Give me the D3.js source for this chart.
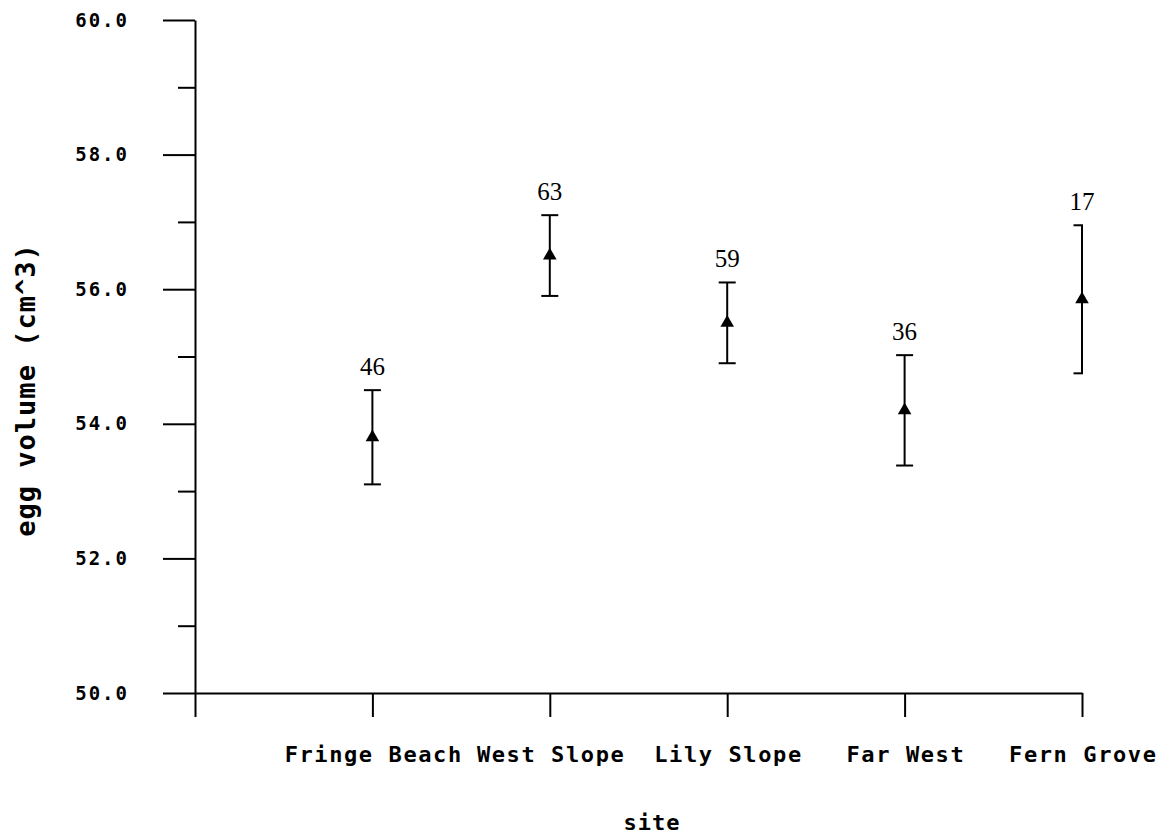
<!DOCTYPE html>
<html>
<head>
<meta charset="utf-8">
<script src="https://cdn.jsdelivr.net/npm/d3@7"></script>
<style>
  html, body { margin: 0; padding: 0; background: #fff; }
  svg { display: block; }
  .axis-text { font-family: "DejaVu Sans Mono", monospace; font-weight: bold; fill: #000; }
  .count { font-family: "Liberation Serif", "Times New Roman", serif; font-size: 25px; fill: #000; }
</style>
</head>
<body>
<svg id="chart" width="1165" height="838"></svg>
<script>
// Egg volume by nesting site: mean ± error, with sample size above each bar
const sites = ["Fringe Beach", "West Slope", "Lily Slope", "Far West", "Fern Grove"];
const meanVolume = [53.8, 56.5, 55.5, 54.2, 55.85];
const errorHalfWidth = [0.7, 0.6, 0.6, 0.82, 1.1];
const sampleSize = [46, 63, 59, 36, 17];
const yMajorTicks = [50, 52, 54, 56, 58, 60];
const yMinorTicks = [51, 53, 55, 57, 59];

const svg = d3.select("#chart");

const plotLeft = 195, plotRight = 1082, plotTop = 20, plotBottom = 693;

// Origin slot plus one slot per site
const x = d3.scalePoint().domain(["", ...sites]).range([plotLeft, plotRight]).padding(0);
const y = d3.scaleLinear().domain([50, 60]).range([plotBottom, plotTop]);

const records = sites.map((s, i) => ({
  site: s,
  mean: meanVolume[i],
  lo: meanVolume[i] - errorHalfWidth[i],
  hi: meanVolume[i] + errorHalfWidth[i],
  n: sampleSize[i]
}));

// Y axis: labelled major ticks and short minor ticks
const yAxis = svg.append("g").attr("transform", `translate(${plotLeft},0)`)
  .call(d3.axisLeft(y).tickValues(yMajorTicks).tickSize(32).tickSizeOuter(0)
    .tickPadding(36).tickFormat(d3.format(".1f")));
yAxis.select(".domain").attr("stroke", "#000").attr("stroke-width", 2);
yAxis.selectAll(".tick line").attr("stroke", "#000").attr("stroke-width", 2);
yAxis.selectAll(".tick text").attr("class", "axis-text")
  .style("font-size", "19px").style("letter-spacing", "2px")
  .attr("dx", "2px");

const yMinor = svg.append("g").attr("transform", `translate(${plotLeft},0)`)
  .call(d3.axisLeft(y).tickValues(yMinorTicks).tickSize(17).tickFormat(""));
yMinor.select(".domain").remove();
yMinor.selectAll(".tick line").attr("stroke", "#000").attr("stroke-width", 2);

// X axis with a tick at the origin and one per site
const xAxis = svg.append("g").attr("transform", `translate(0,${plotBottom})`)
  .call(d3.axisBottom(x).tickSize(24).tickSizeOuter(0));
xAxis.select(".domain").attr("stroke", "#000").attr("stroke-width", 2);
xAxis.selectAll(".tick line").attr("stroke", "#000").attr("stroke-width", 2);
xAxis.selectAll(".tick text").attr("class", "axis-text")
  .style("font-size", "22px").style("letter-spacing", "1.6px")
  .attr("y", 69).attr("dy", 0).attr("dx", "0.8px");

// Axis titles
svg.append("text").attr("class", "axis-text")
  .attr("x", 652).attr("y", 830)
  .attr("text-anchor", "middle")
  .style("font-size", "22px").style("letter-spacing", "1px")
  .text("site");

svg.append("text").attr("class", "axis-text")
  .attr("transform", "translate(25,390) rotate(-90)")
  .attr("text-anchor", "middle").attr("dominant-baseline", "central")
  .style("font-size", "27px").style("letter-spacing", "1px")
  .text("egg volume (cm^3)");

// Error bars, clipped at the right end of the x axis
svg.append("defs").append("clipPath").attr("id", "plot-clip")
  .append("rect").attr("x", 0).attr("y", 0).attr("width", plotRight + 1).attr("height", 838);

const capHalf = 8.5;
const bars = svg.append("g").attr("clip-path", "url(#plot-clip)")
  .attr("stroke", "#000").attr("stroke-width", 2);

bars.selectAll("line.stem").data(records).join("line").attr("class", "stem")
  .attr("x1", d => x(d.site)).attr("x2", d => x(d.site))
  .attr("y1", d => y(d.hi)).attr("y2", d => y(d.lo));
bars.selectAll("line.cap-hi").data(records).join("line").attr("class", "cap-hi")
  .attr("x1", d => x(d.site) - capHalf).attr("x2", d => x(d.site) + capHalf)
  .attr("y1", d => y(d.hi)).attr("y2", d => y(d.hi));
bars.selectAll("line.cap-lo").data(records).join("line").attr("class", "cap-lo")
  .attr("x1", d => x(d.site) - capHalf).attr("x2", d => x(d.site) + capHalf)
  .attr("y1", d => y(d.lo)).attr("y2", d => y(d.lo));

// Mean markers
svg.append("g").selectAll("path").data(records).join("path")
  .attr("d", d3.symbol(d3.symbolTriangle, 80))
  .attr("transform", d => `translate(${x(d.site)},${y(d.mean)})`)
  .attr("fill", "#000");

// Sample sizes
svg.append("g").selectAll("text").data(records).join("text")
  .attr("class", "count")
  .attr("x", d => x(d.site)).attr("y", d => y(d.hi) - 15)
  .attr("text-anchor", "middle")
  .text(d => d.n);
</script>
</body>
</html>
